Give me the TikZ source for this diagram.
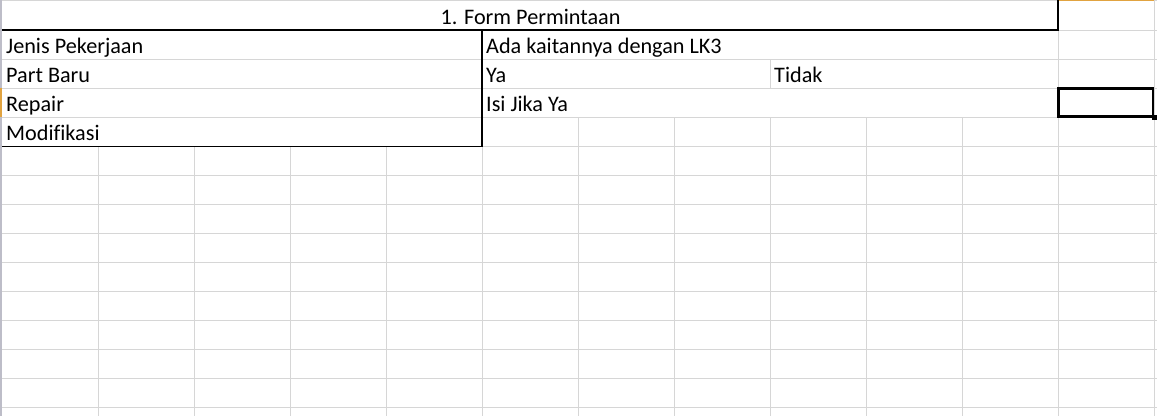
\documentclass[tikz,border=0pt]{standalone}
\usepackage{fontspec}
\setmainfont{Carlito}[Ligatures=CommonOff]
\definecolor{gridc}{HTML}{D6D6D6}
\definecolor{hdrc}{HTML}{BDBDC8}
\definecolor{selc}{HTML}{E1A340}
\begin{document}
\begin{tikzpicture}[x=1pt,y=-1pt,
  cell/.style={anchor=base west, inner sep=0pt, font=\fontsize{22.2}{26}\selectfont},
  titlecell/.style={anchor=base, inner sep=0pt, font=\fontsize{22.2}{26}\selectfont},
  gridline/.style={draw=gridc, line width=1pt},
  bord/.style={draw=black, line width=1.2pt},
  thickbord/.style={draw=black, line width=2pt},
  selbox/.style={draw=black, line width=2.4pt}]
\useasboundingbox[fill=white] (0,0) rectangle (1157,416);
% horizontal grid lines
\draw[gridline] (0,0.6) -- (1157,0.6);
\foreach \k in {0,...,13} {
  \draw[gridline] (2,{30+29.05*\k}) -- (1157,{30+29.05*\k});
}
% vertical grid lines
\foreach \x in {98,194,290,386,482} {
  \draw[gridline] (\x,146.2) -- (\x,416);
}
\foreach \x in {578,674,866,962} {
  \draw[gridline] (\x,117.2) -- (\x,416);
}
\draw[gridline] (770,59) -- (770,88.1);
\draw[gridline] (770,117.2) -- (770,416);
\draw[gridline] (1058,0) -- (1058,416);
\draw[gridline] (1154,0) -- (1154,416);
% row header edge
\draw[draw=hdrc, line width=2.2pt] (1.1,0) -- (1.1,416);
\draw[draw=selc, line width=2.2pt] (1.1,88.1) -- (1.1,117.2);
\draw[draw=selc, line width=1.4pt] (1058,0.7) -- (1154,0.7);
% borders
\draw[bord] (2.2,30) -- (482,30) -- (482,146.2) -- (2.2,146.2);
\draw[thickbord] (482,30) -- (1058,30) -- (1058,0);
% selected cell
\draw[selbox] (1058.5,88.4) rectangle (1153,116.4);
\fill[black] (1151.5,114.8) rectangle (1156.5,119.8);
% texts
\node[titlecell] (title) at (530.5,24) {1. Form Permintaan};
\node[cell] (jenis) at (6,53) {Jenis Pekerjaan};
\node[cell] (part) at (6,82) {Part Baru};
\node[cell] (repair) at (6,111) {Repair};
\node[cell] (modif) at (6,140) {Modifikasi};
\node[cell] (ada) at (486,53) {Ada kaitannya dengan LK3};
\node[cell] (ya) at (486,82) {Ya};
\node[cell] (tidak) at (774,82) {Tidak};
\node[cell] (isi) at (486,111) {Isi Jika Ya};
\end{tikzpicture}
\end{document}
